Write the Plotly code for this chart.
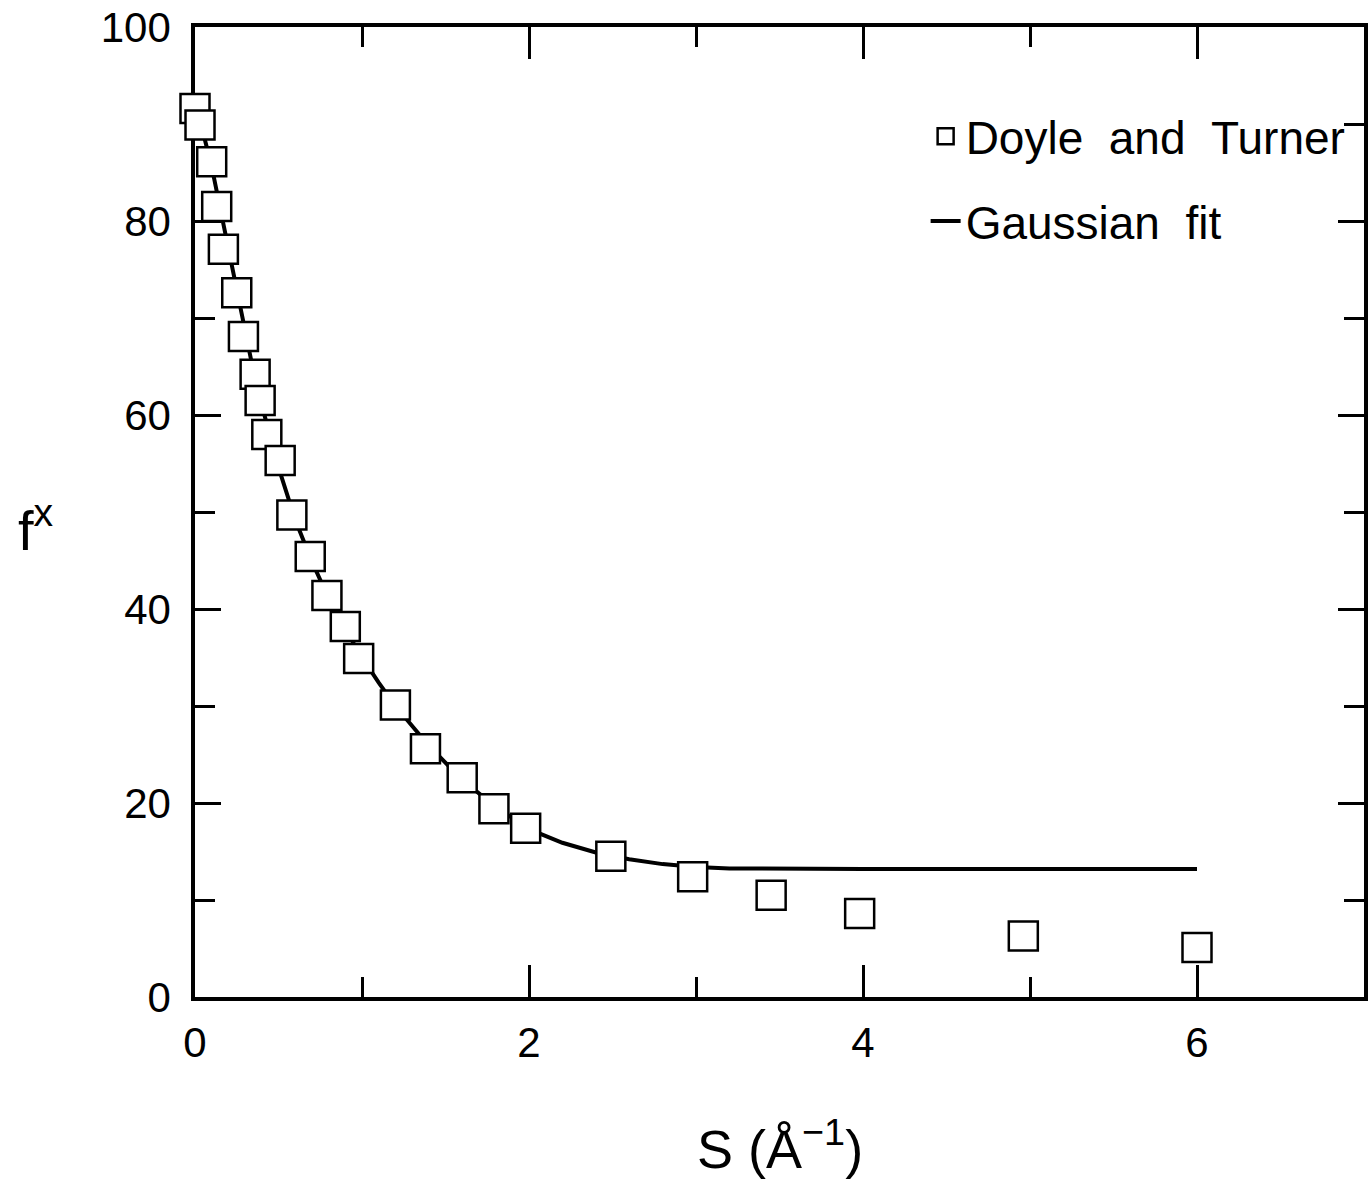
import plotly.graph_objects as go

# Doyle and Turner tabulated points
s_dt = [0.0, 0.03, 0.10, 0.13, 0.17, 0.25, 0.29, 0.36, 0.39, 0.43, 0.51, 0.58,
        0.69, 0.79, 0.90, 0.98, 1.20, 1.38, 1.60, 1.79, 1.98, 2.49, 2.98, 3.45,
        3.98, 4.96, 6.0]
f_dt = [91.6, 89.9, 86.1, 81.5, 77.1, 72.6, 68.1, 64.2, 61.5, 58.0, 55.3, 49.7,
        45.4, 41.4, 38.2, 34.9, 30.1, 25.6, 22.6, 19.4, 17.4, 14.5, 12.4, 10.5,
        8.6, 6.3, 5.1]

# Gaussian fit curve
s_fit = [0.0, 0.05, 0.10, 0.15, 0.20, 0.25, 0.30, 0.35, 0.40, 0.45, 0.50, 0.60,
         0.70, 0.80, 0.90, 1.00, 1.10, 1.20, 1.40, 1.60, 1.80, 2.00, 2.20, 2.40,
         2.60, 2.80, 3.00, 3.20, 3.50, 4.00, 5.00, 6.00]
f_fit = [91.0, 89.0, 85.6, 81.3, 77.0, 72.7, 68.4, 64.5, 61.0, 57.6, 54.6, 49.2,
         44.9, 41.1, 37.9, 35.0, 32.4, 30.0, 25.9, 22.4, 19.6, 17.3, 15.9, 14.9,
         14.2, 13.7, 13.4, 13.25, 13.2, 13.2, 13.2, 13.2]

x_ticks = [0, 2, 4, 6]
y_ticks = [0, 20, 40, 60, 80, 100]

FONT = "Liberation Sans, Arial, Helvetica, sans-serif"

fig = go.Figure()
fig.add_trace(go.Scatter(
    x=s_fit, y=f_fit, mode="lines", name="Gaussian\u00a0\u00a0fit",
    line=dict(color="black", width=4), legendrank=2, legendgroup="b",
    cliponaxis=False,
))
fig.add_trace(go.Scatter(
    x=s_dt, y=f_dt, mode="markers", name="Doyle\u00a0\u00a0and\u00a0\u00a0Turner",
    marker=dict(symbol="square", size=29, color="white",
                line=dict(color="black", width=2.5)),
    legendrank=1, legendgroup="a", cliponaxis=False,
))

axis_common = dict(
    showgrid=False, zeroline=False, showline=True, linecolor="black",
    linewidth=3.5, mirror="ticks", ticks="inside", tickcolor="black",
    tickwidth=2.5, layer="below traces", ticklabeloverflow="allow",
    tickfont=dict(family=FONT, size=42, color="black"),
)

fig.update_xaxes(
    range=[0, 7], tickvals=x_ticks, ticktext=[str(v) for v in x_ticks],
    ticklen=32,
    minor=dict(dtick=1, tick0=0, ticks="inside", ticklen=20, tickwidth=2.5,
               tickcolor="black"),
    ticklabelstandoff=6, **axis_common,
)
fig.update_yaxes(
    range=[0, 100], tickvals=y_ticks, ticktext=[str(v) for v in y_ticks],
    ticklen=26,
    minor=dict(dtick=10, tick0=0, ticks="inside", ticklen=20, tickwidth=2.5,
               tickcolor="black"),
    ticklabelstandoff=12, **axis_common,
)

fig.update_layout(
    width=1371, height=1192,
    margin=dict(l=195, r=7, t=27, b=195, autoexpand=False),
    paper_bgcolor="white", plot_bgcolor="white",
    font=dict(family=FONT, color="black"),
    showlegend=True,
    legend=dict(
        x=0.625, y=0.925, xanchor="left", yanchor="top",
        bgcolor="rgba(0,0,0,0)", borderwidth=0,
        font=dict(family=FONT, size=46, color="black"),
        tracegroupgap=22, itemsizing="trace",
    ),
    annotations=[
        dict(text="S (Å<sup>\u22121</sup>)", xref="paper", yref="paper",
             x=0.5, y=-0.153, xanchor="center", yanchor="middle",
             showarrow=False, font=dict(family=FONT, size=54, color="black")),
        dict(text="f<sup>x</sup>", xref="paper", yref="paper",
             x=-0.136, y=0.485, xanchor="center", yanchor="middle",
             showarrow=False, font=dict(family=FONT, size=56, color="black")),
    ],
)

fig.write_html(
    "out.html",
    config={"displayModeBar": False},
    post_script="document.body.style.margin='0';document.body.style.padding='0';",
)
